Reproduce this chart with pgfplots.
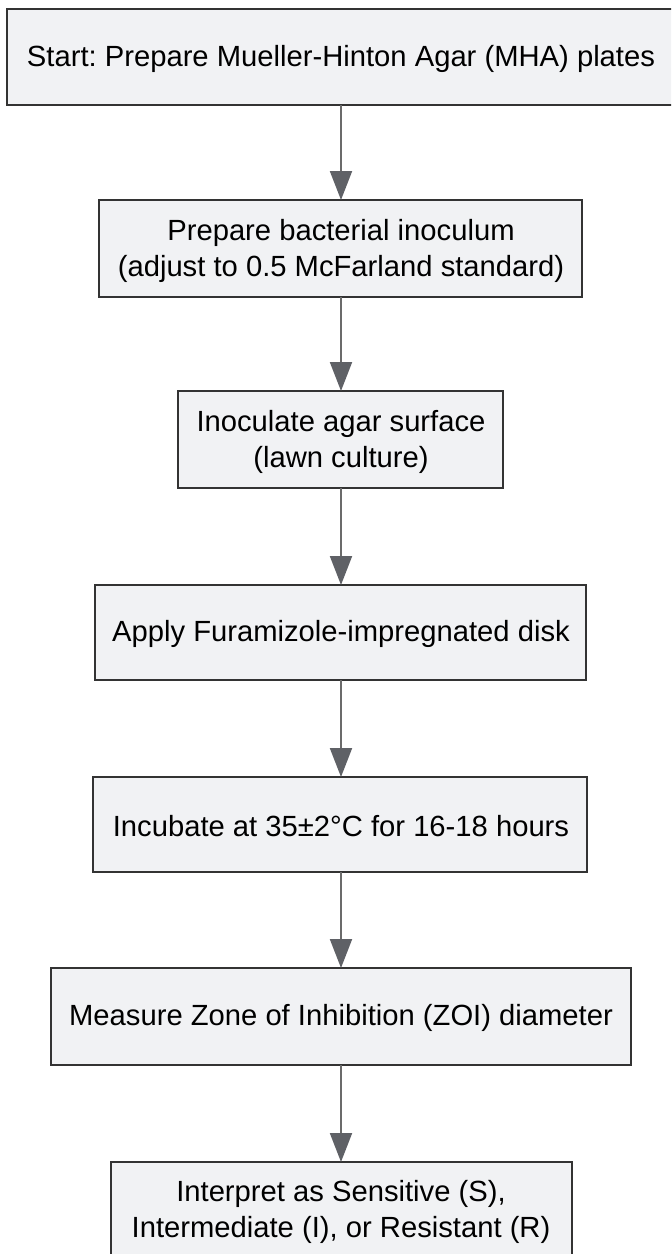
\documentclass[border=0pt]{standalone}
\usepackage{fontspec}
\setmainfont{Liberation Sans}
\usepackage{pgfplots}
\pgfplotsset{compat=1.18}
\usetikzlibrary{arrows.meta}
\frenchspacing

\definecolor{boxfill}{HTML}{F1F2F4}
\definecolor{boxline}{HTML}{333333}
\definecolor{shaft}{HTML}{6B6B6B}
\definecolor{head}{HTML}{5F6166}

\tikzset{lbl/.style={font=\fontsize{14.6}{18}\selectfont, align=center, text=black, inner sep=0pt}}

% box: x1, y1, x2, y2 (pixel coords, y downwards)
\newcommand\flowbox[4]{%
  \addplot[fill=boxfill, draw=boxline, line width=1.25pt, line cap=rect, line join=miter, mark=none]
    coordinates {(#1,#2) (#3,#2) (#3,#4) (#1,#4) (#1,#2)};}
% arrow: from y1 down to y2 at x=341
\newcommand\flowarrow[2]{%
  \addplot[shaft, line width=1pt, mark=none,
    -{Triangle[length=14.5pt, width=11pt, color=head]}]
    coordinates {(341,#1) (341,#2)};}

\begin{document}
\begin{tikzpicture}
\begin{axis}[
    x=0.5pt, y=0.5pt,
    xmin=0, xmax=671, ymin=0, ymax=1254,
    y dir=reverse,
    hide axis,
    scale only axis,
    clip=true,
  ]
  \flowbox{7}{9}{676}{105}
  \flowbox{99}{200}{582}{297}
  \flowbox{178}{391}{503}{488}
  \flowbox{95}{585}{586}{680}
  \flowbox{93}{777}{587}{872}
  \flowbox{51}{968}{631}{1065}
  \flowbox{111}{1162}{572}{1262}

  \flowarrow{105}{200}
  \flowarrow{297}{391}
  \flowarrow{488}{585}
  \flowarrow{680}{777}
  \flowarrow{872}{968}
  \flowarrow{1065}{1162}

  \node[lbl] at (axis cs:341,59) {Start: Prepare Mueller-Hinton Agar (MHA) plates};
  \node[lbl] at (axis cs:341,251) {Prepare bacterial inoculum\\(adjust to 0.5 McFarland standard)};
  \node[lbl] at (axis cs:341,442) {Inoculate agar surface\\(lawn culture)};
  \node[lbl] at (axis cs:341,634) {Apply Furamizole-impregnated disk};
  \node[lbl] at (axis cs:341,826) {Incubate at 35±2°C for 16-18 hours};
  \node[lbl] at (axis cs:341,1018) {Measure Zone of Inhibition (ZOI) diameter};
  \node[lbl] at (axis cs:341,1212) {Interpret as Sensitive (S),\\Intermediate (I), or Resistant (R)};
\end{axis}
\pgfresetboundingbox
\useasboundingbox (current axis.south west) rectangle (current axis.north east);
\end{tikzpicture}
\end{document}
